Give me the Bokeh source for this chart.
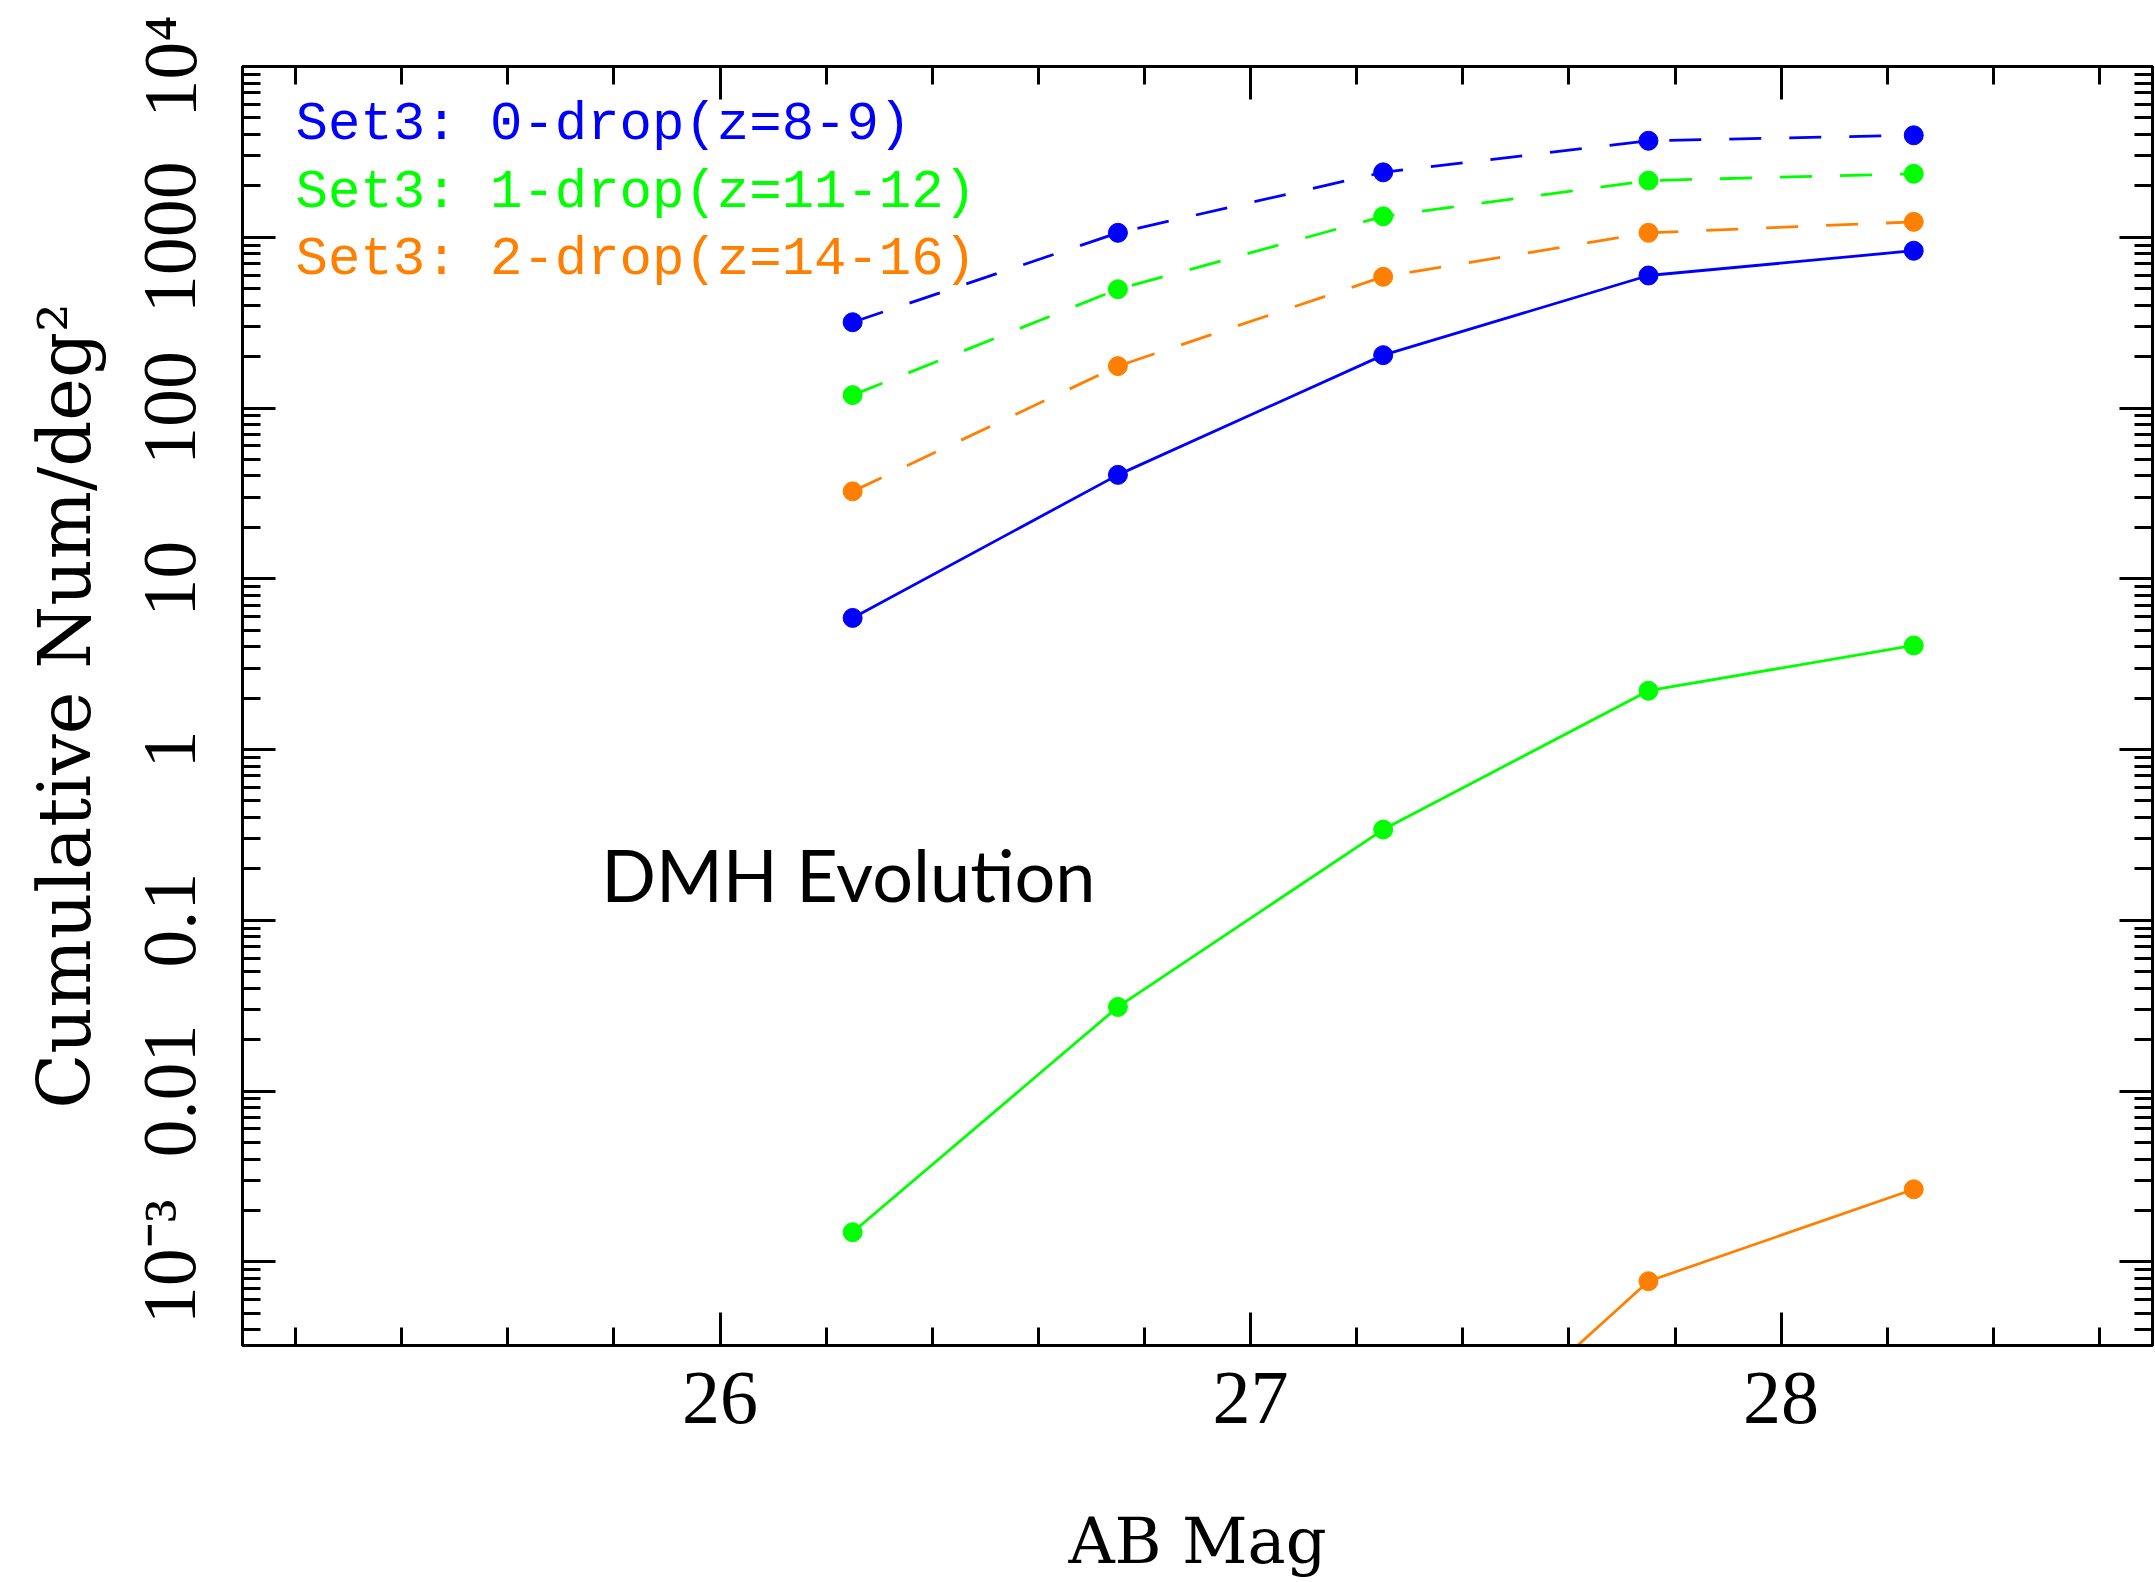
from bokeh.plotting import figure
from bokeh.models import Range1d, FixedTicker, LogAxis, LinearAxis, Label, CustomJSTickFormatter
from bokeh.embed import file_html
from bokeh.resources import INLINE

# ---------------- data ----------------
mag = [26.25, 26.75, 27.25, 27.75, 28.25]
set3_0drop = [318, 1062, 2400, 3675, 3955]
set3_1drop = [119, 496, 1326, 2147, 2355]
set3_2drop = [32.5, 176, 587, 1062, 1231]
dmh_0drop = [5.9, 40.6, 204, 597, 834]
dmh_1drop = [1.49e-3, 0.0311, 0.34, 2.21, 4.07]
dmh_2drop_mag = [27.25, 27.75, 28.25]
dmh_2drop = [3.0e-5, 7.7e-4, 2.66e-3]

legend_texts = ["Set3: 0-drop(z=8-9)", "Set3: 1-drop(z=11-12)", "Set3: 2-drop(z=14-16)"]
x_major = [26, 27, 28]
y_major = [1e-3, 1e-2, 0.1, 1, 10, 100, 1000, 1e4]
y_tick_labels = ["10\u207b\u00b3", "0.01", "0.1", "1", "10", "100", "1000", "10\u2074"]

BLUE = "#0000ff"
GREEN = "#00ff00"
ORANGE = "#ff8000"

x_minor = [round(25.2 + 0.2 * i, 1) for i in range(18)]
x_minor = [v for v in x_minor if v not in (26.0, 27.0, 28.0)]
y_minor = [m * 10.0 ** e for e in range(-4, 4) for m in range(2, 10)]

MONO = "Liberation Mono"
SERIF = "Liberation Serif"
LABEL_FONT = "DejaVu Serif"

p = figure(width=2155, height=1582,
           x_range=Range1d(25.1, 28.7), y_range=Range1d(10 ** -3.49, 1e4),
           y_axis_type="log", output_backend="svg", toolbar_location=None,
           min_border_left=242, min_border_top=66, min_border_right=3,
           min_border_bottom=237)
p.grid.visible = False
p.background_fill_color = "white"
p.border_fill_color = "white"
p.outline_line_color = "black"
p.outline_line_width = 3


def style_axis(ax):
    ax.major_tick_in = 33
    ax.major_tick_out = 0
    ax.minor_tick_in = 18
    ax.minor_tick_out = 0
    ax.major_tick_line_width = 3
    ax.minor_tick_line_width = 3
    ax.axis_line_width = 3
    ax.major_tick_line_color = "black"
    ax.minor_tick_line_color = "black"
    ax.axis_line_color = "black"


xa = p.xaxis[0]
xa.ticker = FixedTicker(ticks=x_major, minor_ticks=x_minor)
style_axis(xa)
xa.major_label_text_font = SERIF
xa.major_label_text_font_size = "76px"
xa.major_label_text_color = "black"
xa.major_label_standoff = 27
xa.axis_label = "AB Mag"
xa.axis_label_text_font = LABEL_FONT
xa.axis_label_text_font_size = "64px"
xa.axis_label_text_font_style = "normal"
xa.axis_label_text_color = "black"
xa.axis_label_standoff = 78

ya = p.yaxis[0]
ya.ticker = FixedTicker(ticks=y_major, minor_ticks=y_minor)
style_axis(ya)
ya.major_label_overrides = {v: s for v, s in zip(y_major, y_tick_labels)}
ya.major_label_orientation = "parallel"
ya.major_label_text_font = SERIF
ya.major_label_text_font_size = "76px"
ya.major_label_text_color = "black"
ya.major_label_standoff = 31
ya.axis_label = "Cumulative Num/deg\u00b2"
ya.axis_label_text_font = LABEL_FONT
ya.axis_label_text_font_size = "72px"
ya.axis_label_text_font_style = "normal"
ya.axis_label_text_color = "black"
ya.axis_label_standoff = 18

blank = CustomJSTickFormatter(code="return ''")

top = LinearAxis(ticker=FixedTicker(ticks=x_major, minor_ticks=x_minor), formatter=blank)
style_axis(top)
top.major_label_standoff = 0
p.add_layout(top, "above")

right = LogAxis(ticker=FixedTicker(ticks=y_major, minor_ticks=y_minor), formatter=blank)
style_axis(right)
right.major_label_standoff = 0
p.add_layout(right, "right")

DASH = "32 28"
series = [
    (mag, set3_0drop, BLUE, DASH),
    (mag, set3_1drop, GREEN, DASH),
    (mag, set3_2drop, ORANGE, DASH),
    (mag, dmh_0drop, BLUE, "solid"),
    (mag, dmh_1drop, GREEN, "solid"),
    (dmh_2drop_mag, dmh_2drop, ORANGE, "solid"),
]
for xs, ys, col, dash in series:
    p.line(xs, ys, line_color=col, line_width=2.8, line_dash=dash)
    p.scatter(xs, ys, marker="circle", size=19, fill_color=col, line_color=col)

leg_y = [4550, 1841, 736]
for txt, yy, col in zip(legend_texts, leg_y, [BLUE, GREEN, ORANGE]):
    p.add_layout(Label(x=25.2, y=yy, text=txt, text_color=col,
                       text_font=MONO, text_font_size="54px",
                       text_baseline="middle", text_align="left"))

p.add_layout(Label(x=25.776, y=0.186, text="DMH Evolution", text_color="black",
                   text_font="Lato", text_font_size="72px",
                   text_baseline="middle", text_align="left"))

open("out.html", "w").write(file_html(p, INLINE))
